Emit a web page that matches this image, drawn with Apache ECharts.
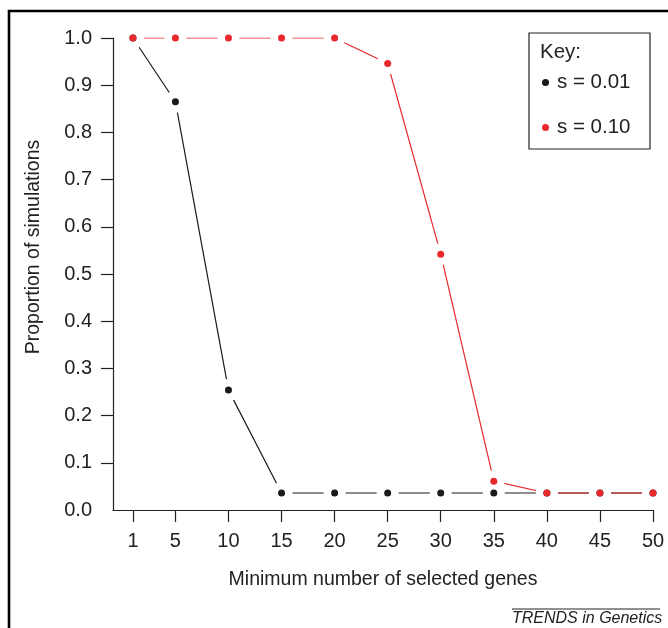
<!DOCTYPE html>
<html><head><meta charset="utf-8">
<script src="https://cdn.jsdelivr.net/npm/echarts@6/dist/echarts.min.js"></script>
<style>html,body{margin:0;padding:0;background:#fff}#c{width:668px;height:628px}</style>
</head><body><div id="c"></div>
<script>
const xValues = [1, 5, 10, 15, 20, 25, 30, 35, 40, 45, 50];
const s001 = [1.0, 0.865, 0.254, 0.036, 0.036, 0.036, 0.036, 0.036, 0.036, 0.036, 0.036];
const s010 = [1.0, 1.0, 1.0, 1.0, 1.0, 0.946, 0.542, 0.061, 0.036, 0.036, 0.036];
const yTicks = [0.1, 0.2, 0.3, 0.4, 0.5, 0.6, 0.7, 0.8, 0.9, 1.0];
const yLabels = [0, 0.1, 0.2, 0.3, 0.4, 0.5, 0.6, 0.7, 0.8, 0.9, 1.0];
const names = ['s = 0.01', 's = 0.10'];

const BLACK = '#1a1a1a', RED = '#e8282c', AX = '#222';
const FONT = '"Liberation Sans", Arial, sans-serif';
const pts = a => xValues.map((x, i) => [x, a[i]]);

function lineS(data, color) {
  return {type: 'line', data, symbol: 'none', silent: true, z: 2,
    lineStyle: {color, width: 1.2}};
}
function haloS(data) {
  return {type: 'scatter', data, symbol: 'circle', symbolSize: 22, silent: true, z: 3,
    itemStyle: {color: '#fff', opacity: 1}};
}
function dotS(name, data, color) {
  return {type: 'scatter', name, data, symbol: 'circle', symbolSize: 7, z: 4, silent: true,
    itemStyle: {color, opacity: 1}};
}

const chart = echarts.init(document.getElementById('c'));
chart.setOption({
  animation: false,
  textStyle: {fontFamily: FONT},
  grid: {left: 113, right: 15, top: 38, bottom: 118},
  xAxis: {
    type: 'value', min: -0.88, max: 50,
    name: 'Minimum number of selected genes', nameLocation: 'middle', nameGap: 60,
    nameTextStyle: {fontSize: 19.5, color: '#222', fontFamily: FONT},
    axisLine: {onZero: false, lineStyle: {color: AX, width: 1.2}},
    axisTick: {show: true, length: 12, lineStyle: {color: AX, width: 1.2}, customValues: xValues},
    axisLabel: {fontSize: 20, color: '#222', margin: 21, customValues: xValues, fontFamily: FONT},
    splitLine: {show: false}
  },
  yAxis: {
    type: 'value', min: 0, max: 1,
    name: 'Proportion of simulations', nameLocation: 'middle', nameGap: 69, nameRotate: 90,
    nameTextStyle: {fontSize: 19.5, color: '#222', fontFamily: FONT, padding: [0, 0, 0, 54]},
    axisLine: {show: true, onZero: false, lineStyle: {color: AX, width: 1.2}},
    axisTick: {show: true, length: 12, lineStyle: {color: AX, width: 1.2}, customValues: yTicks},
    axisLabel: {fontSize: 20, color: '#222', margin: 21, customValues: yLabels,
      formatter: v => v.toFixed(1), fontFamily: FONT},
    splitLine: {show: false}
  },
  legend: {
    orient: 'vertical', left: 542, top: 72, itemGap: 24, padding: 0,
    icon: 'circle', itemWidth: 7, itemHeight: 7, itemStyle: {borderWidth: 0},
    textStyle: {fontSize: 20.5, color: '#222', lineHeight: 21, fontFamily: FONT, padding: [0, 0, 0, 3]},
    data: names, selectedMode: false
  },
  graphic: [
    {type: 'polyline', shape: {points: [[9, 628], [9, 11], [668, 11]]},
      style: {stroke: '#000', lineWidth: 2.6, fill: null}},
    {type: 'rect', shape: {x: 529, y: 33, width: 121, height: 116},
      style: {stroke: '#222', lineWidth: 1.2, fill: '#fff'}, z: 0},
    {type: 'text', left: 540, top: 42,
      style: {text: 'Key:', fontSize: 20.5, fill: '#222', fontFamily: FONT}},
    {type: 'line', shape: {x1: 512, y1: 609, x2: 660, y2: 609},
      style: {stroke: '#222', lineWidth: 1}},
    {type: 'text', left: 512, top: 611,
      style: {text: 'TRENDS in Genetics', fontSize: 16, fontStyle: 'italic', fill: '#222', fontFamily: FONT}}
  ],
  series: [
    lineS(pts(s001), BLACK),
    lineS(pts(s010), RED),
    haloS(pts(s001)),
    haloS(pts(s010)),
    dotS(names[0], pts(s001), BLACK),
    dotS(names[1], pts(s010), RED)
  ]
});
</script></body></html>
